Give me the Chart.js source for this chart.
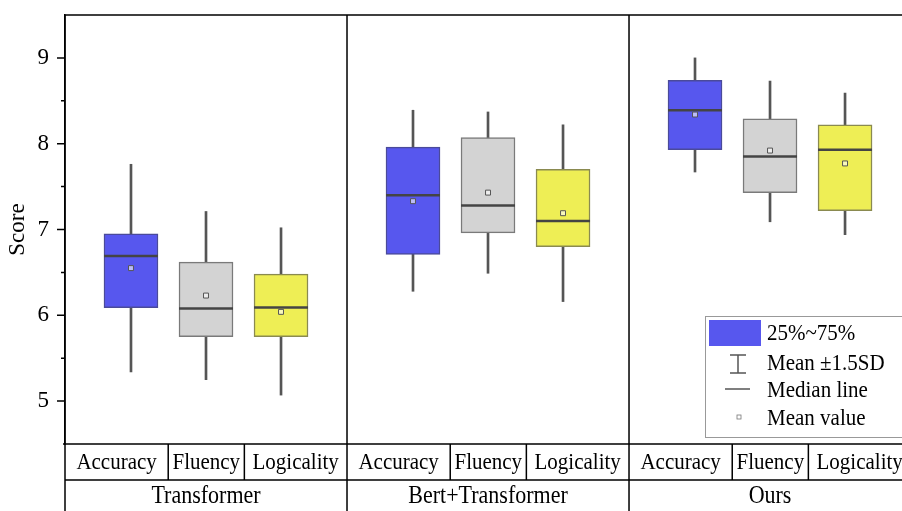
<!DOCTYPE html>
<html>
<head>
<meta charset="utf-8">
<script src="https://cdn.jsdelivr.net/npm/chart.js@4.4.1/dist/chart.umd.min.js"></script>
<style>
  html, body { margin: 0; background: #fff; }
  #wrap { width: 902px; height: 511px; }
</style>
</head>
<body>
<div id="wrap"><canvas id="c"></canvas></div>
<script>
// data
const groups = ["Transformer", "Bert+Transformer", "Ours"];
const metrics = ["Accuracy", "Fluency", "Logicality"];
// order: Transformer(A,F,L), Bert+Transformer(A,F,L), Ours(A,F,L)
const q1      = [6.09, 5.75, 5.75, 6.71, 6.96, 6.80, 7.93, 7.43, 7.22];
const q3      = [6.95, 6.62, 6.48, 7.96, 8.07, 7.70, 8.74, 8.29, 8.22];
const medians = [6.69, 6.08, 6.09, 7.40, 7.28, 7.10, 8.39, 7.85, 7.93];
const means   = [6.55, 6.23, 6.04, 7.33, 7.43, 7.19, 8.34, 7.92, 7.77];
const lows    = [5.34, 5.25, 5.07, 6.28, 6.49, 6.16, 7.67, 7.09, 6.94];
const highs   = [7.76, 7.21, 7.02, 8.39, 8.37, 8.22, 9.00, 8.73, 8.59];
const yTicks  = [5, 6, 7, 8, 9];

const FONT = "'Liberation Serif', 'DejaVu Serif', serif";
const fills = ["#5757EE", "#D3D3D3", "#EEEE55"];
const edges = ["#4a4a9a", "#7a7a7a", "#8a8a50"];

// box centre inside each group (group = 1 unit on x)
const boxX = [];
groups.forEach((g, gi) => metrics.forEach((m, mi) => boxX.push(gi + 0.234 + mi * 0.266)));
const metricIdx = boxX.map((_, i) => i % 3);
// cell borders of the metric row, as fraction of a group
const cellCuts = [0.366, 0.636];

// the source text is a little taller than it is wide
function tallText(ctx, t, x, y) {
  ctx.save();
  ctx.translate(x, y);
  ctx.scale(1, 1.12);
  ctx.fillText(t, 0, 0);
  ctx.restore();
}

const frame = {
  id: "frame",
  afterDraw(chart) {
    const { ctx, chartArea: a, scales: { x, y } } = chart;
    const H = chart.height;
    const row2 = a.bottom + 36;
    ctx.save();
    ctx.strokeStyle = "#000";
    ctx.lineWidth = 1.5;
    ctx.beginPath();
    ctx.moveTo(a.left, a.top); ctx.lineTo(a.right, a.top);
    ctx.moveTo(a.left, a.top); ctx.lineTo(a.left, H);
    ctx.moveTo(a.left - 2, a.bottom); ctx.lineTo(a.right, a.bottom);
    ctx.moveTo(a.left, row2); ctx.lineTo(a.right, row2);
    for (let g = 1; g < groups.length; g++) {
      const px = x.getPixelForValue(g);
      ctx.moveTo(px, a.top); ctx.lineTo(px, H);
    }
    groups.forEach((g, gi) => cellCuts.forEach(f => {
      const px = x.getPixelForValue(gi + f);
      ctx.moveTo(px, a.bottom); ctx.lineTo(px, row2);
    }));
    // y ticks, major and minor
    y.ticks.forEach(t => {
      if (t.value <= y.min || t.value >= y.max) return;
      const py = y.getPixelForValue(t.value);
      const len = Number.isInteger(t.value) ? 8 : 4;
      ctx.moveTo(a.left - len, py); ctx.lineTo(a.left, py);
    });
    ctx.stroke();

    // table text
    ctx.fillStyle = "#000";
    ctx.textAlign = "center";
    ctx.textBaseline = "middle";
    ctx.font = "21px " + FONT;
    groups.forEach((g, gi) => {
      const cuts = [0, ...cellCuts, 1];
      metrics.forEach((m, mi) => {
        const cx = (x.getPixelForValue(gi + cuts[mi]) + x.getPixelForValue(gi + cuts[mi + 1])) / 2;
        tallText(ctx, m, cx, a.bottom + 19);
      });
    });
    ctx.font = "22px " + FONT;
    groups.forEach((g, gi) => {
      const cx = (x.getPixelForValue(gi) + x.getPixelForValue(gi + 1)) / 2;
      tallText(ctx, g, cx, row2 + 17);
    });

    // legend
    const lx = a.right - 197, ly = a.bottom - 128;
    ctx.fillStyle = "#fff";
    ctx.fillRect(lx, ly, 200, 121);
    ctx.strokeStyle = "#999";
    ctx.lineWidth = 1;
    ctx.strokeRect(lx + 0.5, ly + 0.5, 200, 121);
    ctx.fillStyle = fills[0];
    ctx.fillRect(lx + 4, ly + 4, 52, 26);
    ctx.strokeStyle = "#555";
    ctx.lineWidth = 1.5;
    ctx.beginPath();
    const ix = lx + 33;
    ctx.moveTo(ix, ly + 39); ctx.lineTo(ix, ly + 57);
    ctx.moveTo(ix - 8, ly + 39); ctx.lineTo(ix + 8, ly + 39);
    ctx.moveTo(ix - 8, ly + 57); ctx.lineTo(ix + 8, ly + 57);
    ctx.moveTo(lx + 20, ly + 73); ctx.lineTo(lx + 45, ly + 73);
    ctx.stroke();
    ctx.lineWidth = 0.8;
    ctx.strokeStyle = "#777";
    ctx.strokeRect(lx + 32, ly + 99, 4, 4);
    ctx.fillStyle = "#000";
    ctx.textAlign = "left";
    ctx.font = "21px " + FONT;
    ["25%~75%", "Mean \u00b11.5SD", "Median line", "Mean value"].forEach((t, i) => {
      tallText(ctx, t, lx + 62, ly + [18, 48, 75, 103][i]);
    });
    ctx.restore();
  }
};

new Chart(document.getElementById("c"), {
  type: "bar",
  data: {
    datasets: [
      {
        label: "Mean value",
        type: "scatter",
        order: 0,
        data: boxX.map((x, i) => ({ x, y: means[i] })),
        pointStyle: "rect",
        pointRadius: 3.5,
        pointBackgroundColor: "rgba(255,255,255,0.6)",
        pointBorderColor: "#555",
        pointBorderWidth: 1
      },
      {
        label: "Median line",
        type: "scatter",
        order: 1,
        data: boxX.map((x, i) => ({ x, y: medians[i] })),
        pointStyle: "line",
        pointRadius: 27,
        pointBorderColor: "#444",
        pointBorderWidth: 2.5
      },
      {
        label: "25%~75%",
        order: 2,
        grouped: false,
        barThickness: 54,
        data: boxX.map((x, i) => ({ x, y: [q1[i], q3[i]] })),
        backgroundColor: metricIdx.map(m => fills[m]),
        borderColor: metricIdx.map(m => edges[m]),
        borderWidth: 1.5,
        borderSkipped: false
      },
      {
        label: "Mean \u00b11.5SD",
        order: 3,
        grouped: false,
        barThickness: 2,
        data: boxX.map((x, i) => ({ x, y: [lows[i], highs[i]] })),
        backgroundColor: "#555",
        borderWidth: 0
      }
    ]
  },
  options: {
    responsive: true,
    maintainAspectRatio: false,
    animation: false,
    events: [],
    layout: { autoPadding: false, padding: { top: 15, bottom: 67, left: 0, right: 0 } },
    plugins: { legend: { display: false }, tooltip: { enabled: false } },
    scales: {
      x: { type: "linear", min: 0, max: 2.968, offset: false, display: false },
      y: {
        min: 4.5,
        max: 9.5,
        afterFit: s => { s.width = 65; s.paddingTop = 0; s.paddingBottom = 0; },
        afterBuildTicks: s => {
          s.ticks = [];
          for (let v = 5; v <= 9; v += 0.5) s.ticks.push({ value: v });
        },
        ticks: {
          autoSkip: false,
          padding: 16,
          color: "#000",
          font: { family: FONT, size: 23 },
          callback: v => yTicks.includes(v) ? String(v) : ""
        },
        grid: { drawOnChartArea: false, drawTicks: false },
        border: { color: "#000", width: 1.5 },
        title: {
          display: true,
          text: "Score",
          color: "#000",
          font: { family: FONT, size: 23 },
          padding: { top: 4, bottom: 0 }
        }
      }
    }
  },
  plugins: [frame]
});
</script>
</body>
</html>
